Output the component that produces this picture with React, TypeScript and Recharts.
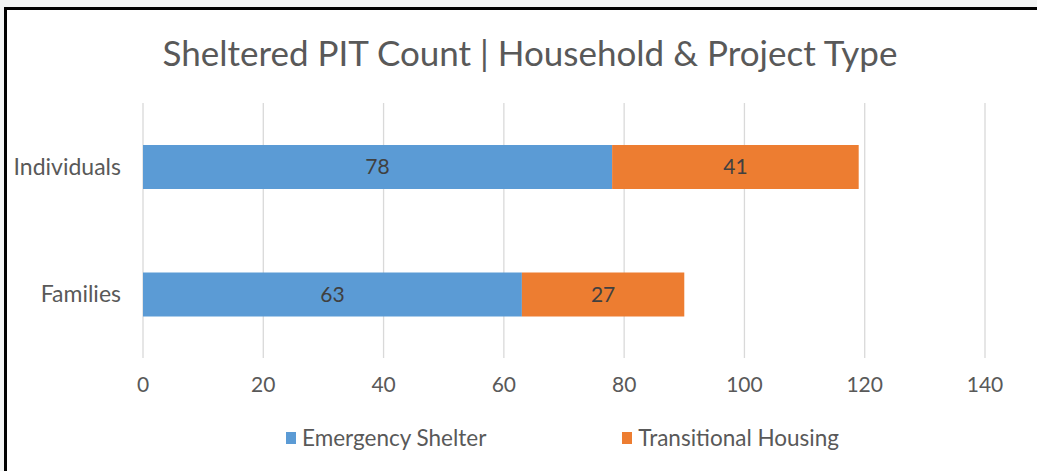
import React from "react";
import { BarChart, Bar, XAxis, YAxis, CartesianGrid, LabelList } from "recharts";

const categories = ["Individuals", "Families"];
const emergencyShelter = [78, 63];
const transitionalHousing = [41, 27];
const xTicks = [0, 20, 40, 60, 80, 100, 120, 140];

const series = [
  { key: "emergency", name: "Emergency Shelter", color: "#5b9bd5" },
  { key: "transitional", name: "Transitional Housing", color: "#ed7d31" },
];

const data = categories.map((name, i) => ({
  name,
  emergency: emergencyShelter[i],
  transitional: transitionalHousing[i],
}));

const W = 1037;
const H = 471;
const FONT = "Lato, 'Open Sans', sans-serif";
const TEXT = "#595959";

const App: React.FC = () => (
  <div
    style={{
      position: "absolute",
      left: 0,
      top: 0,
      width: W,
      height: H,
      background: "#f2f4f4",
      overflow: "hidden",
      fontFamily: FONT,
    }}
  >
    {/* white card with the black frame on the top and left */}
    <div
      style={{
        position: "absolute",
        left: 4,
        top: 7,
        right: 0,
        bottom: 0,
        background: "#fff",
        borderLeft: "3px solid #000",
        borderTop: "3px solid #000",
      }}
    />

    <div
      style={{
        position: "absolute",
        top: 28,
        left: 0,
        width: 1060,
        textAlign: "center",
        fontSize: 35,
        color: TEXT,
        lineHeight: "48px",
      }}
    >
      Sheltered PIT Count | Household &amp; Project Type
    </div>

    <div style={{ position: "absolute", left: 0, top: 0 }}>
      <BarChart
        width={W}
        height={H}
        data={data}
        layout="vertical"
        margin={{ top: 103, right: 52, bottom: 0, left: 0 }}
      >
        <CartesianGrid horizontal={false} stroke="#d9d9d9" strokeWidth={1.3} />
        <XAxis
          type="number"
          domain={[0, 140]}
          ticks={xTicks}
          height={113}
          axisLine={false}
          tickLine={false}
          tickSize={0}
          tickMargin={19}
          tick={{ fill: TEXT, fontSize: 21, fontFamily: FONT }}
        />
        <YAxis
          type="category"
          dataKey="name"
          width={143}
          axisLine={false}
          tickLine={false}
          tickSize={0}
          tickMargin={22}
          tick={{ fill: TEXT, fontSize: 23, fontFamily: FONT }}
        />
        {series.map((s) => (
          <Bar
            key={s.key}
            dataKey={s.key}
            name={s.name}
            stackId="a"
            fill={s.color}
            barSize={44}
            isAnimationActive={false}
          >
            <LabelList
              dataKey={s.key}
              position="center"
              fill="#404040"
              fontSize={21}
              fontFamily={FONT}
            />
          </Bar>
        ))}
      </BarChart>
    </div>

    {/* Legend */}
    <div
      style={{
        position: "absolute",
        top: 424,
        left: 286,
        display: "flex",
        alignItems: "center",
        fontSize: 22.5,
        color: TEXT,
      }}
    >
      {series.map((s, i) => (
        <div
          key={s.key}
          style={{ display: "flex", alignItems: "center", marginRight: i === 0 ? 136 : 0 }}
        >
          <div style={{ width: 10, height: 12, background: s.color, marginRight: 6 }} />
          <span>{s.name}</span>
        </div>
      ))}
    </div>
  </div>
);

export default App;
